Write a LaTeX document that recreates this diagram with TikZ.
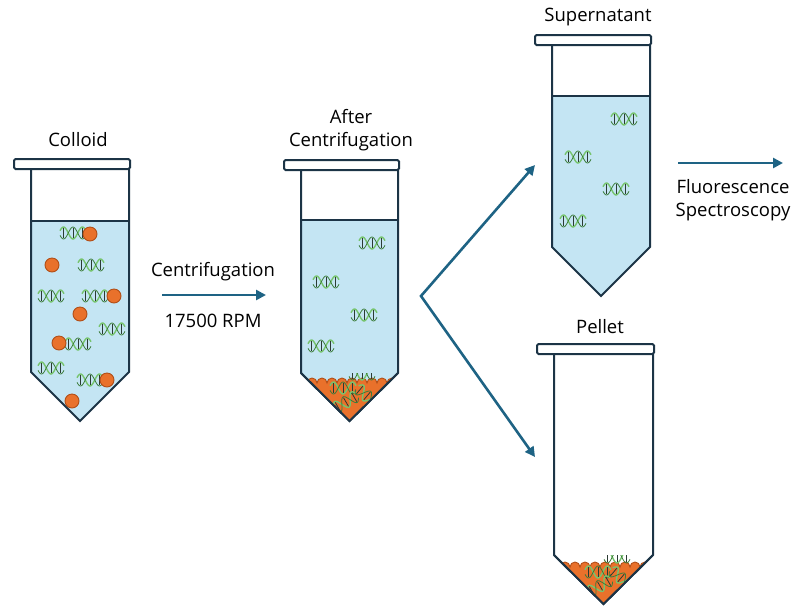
\documentclass[tikz,border=0pt]{standalone}
\usepackage{fontspec}
\setmainfont{Open Sans}
\usetikzlibrary{arrows.meta}

\definecolor{liquidblue}{HTML}{C4E5F3}
\definecolor{tubeline}{HTML}{1C3446}
\definecolor{flowblue}{HTML}{1E6384}
\definecolor{beadorange}{HTML}{E9712B}
\definecolor{beadedge}{HTML}{B14E17}
\definecolor{strandlight}{HTML}{77C46E}
\definecolor{stranddark}{HTML}{3C7D3A}
\definecolor{rungdark}{HTML}{2B3B33}

\tikzset{
  tube/.style={draw=tubeline, line width=2pt},
  pellet/.style={fill=beadorange, draw=beadedge, line width=0.9pt},
  bead/.style={fill=beadorange, draw=beadedge, line width=0.9pt},
  flow/.style={draw=flowblue, line width=2.6pt, -{Triangle[length=10pt,width=10pt]}},
  lbl/.style={font=\fontsize{18.5}{23}\selectfont, align=center, inner sep=0pt},
  dna/.pic={
    \draw[strandlight, line width=1.4pt] plot[domain=-13:13, samples=31, smooth] (\x,{6*cos(19*\x)});
    \draw[stranddark, line width=0.8pt] plot[domain=-13:13, samples=31, smooth] (\x,{-6*cos(19*\x)});
    \foreach \u in {-9.5,0,9.5} \draw[rungdark, line width=0.8pt] (\u,-5) -- (\u,5);
  }
}

\begin{document}
\begin{tikzpicture}[x=1pt,y=-1pt]
  \useasboundingbox (0,0) rectangle (797,606);
  % #1 left, #2 right, #3 neck, #4 shoulder, #5 tip, #6 liquid level
  \newcommand{\drawTube}[6]{
    \begin{scope}
      \clip (#1,#3) -- (#1,#4) -- ({(#1+#2)/2},#5) -- (#2,#4) -- (#2,#3) -- cycle;
      \fill[liquidblue] (#1,#6) rectangle (#2,#5);
      \draw[tube] (#1,#6) -- (#2,#6);
    \end{scope}
    \draw[tube] (#1,#3) -- (#1,#4) -- ({(#1+#2)/2},#5) -- (#2,#4) -- (#2,#3);
    \draw[tube, fill=white, rounded corners=1.5pt] (#1-17,#3-10) rectangle (#2+1,#3); }
  % #1 left, #2 right, #3 shoulder, #4 tip, #5 pellet top
  \newcommand{\drawPellet}[5]{
    \begin{scope}
      \clip (#1,#3) -- ({(#1+#2)/2},#4) -- (#2,#3) -- cycle;
      \draw[pellet] (#1-4,#5) foreach \k in {1,...,11} {arc[start angle=180, end angle=360, radius=5]}
        -- (#2+12,#4+2) -- (#1-4,#4+2) -- cycle;
    \end{scope} }
  \newcommand{\redrawTip}[4]{\draw[tube, line join=miter] (#1,#3) -- ({(#1+#2)/2},#4) -- (#2,#3);}
  \newcommand{\drawBead}[2]{\draw[bead] (#1,#2) circle (7);}

  % colloid
  \drawTube{31}{129}{169}{372}{421}{221}
  \foreach \p in {(73,233),(91,265),(51,296),(95,296),(112,329),(78,344),(51,368),(90,380)}
    \pic at \p {dna};
  \foreach \bx/\by in {90/234,52/265,114/296,80/314,59/343,107/380,72/401}
    {\drawBead{\bx}{\by}}

  % after centrifugation
  \drawTube{301}{398}{170}{373}{421}{220}
  \foreach \p in {(372,243),(326,282),(364,315),(321,346)}
    \pic at \p {dna};
  \drawPellet{301}{398}{373}{421}{383}
  \begin{scope}
    \clip (301,373) -- (350,421) -- (398,373) -- cycle;
    \pic at (362,374) {dna};
    \pic at (343,388) {dna};
    \pic[rotate=30] at (346,402) {dna};
    \pic[rotate=-40] at (367,396) {dna};
  \end{scope}
  \redrawTip{301}{398}{373}{421}

  % supernatant
  \drawTube{552}{650}{45}{247}{296}{96}
  \foreach \p in {(624,119),(578,157),(616,189),(573,221)}
    \pic at \p {dna};

  % pellet
  \drawTube{554}{653}{354}{555}{604}{620}
  \drawPellet{554}{653}{555}{604}{567}
  \begin{scope}
    \clip (554,555) -- (603.5,604) -- (653,555) -- cycle;
    \pic at (617,557) {dna};
    \pic at (598,572) {dna};
    \pic[rotate=30] at (600,586) {dna};
    \pic[rotate=-40] at (621,578) {dna};
  \end{scope}
  \redrawTip{554}{653}{555}{604}

  % labels
  \node[lbl] (colloid) at (78,140) {Colloid};
  \node[lbl] (after) at (351,130) {After\\Centrifugation};
  \node[lbl] (spin) at (213,272) {Centrifugation};
  \node[lbl] (rpm) at (213,321) {17500 RPM};
  \node[lbl] (super) at (598,17) {Supernatant};
  \node[lbl] (pel) at (600,327) {Pellet};
  \node[lbl] (fluor) at (733,200) {Fluorescence\\Spectroscopy};

  % arrows
  \coordinate (spinL) at (162,295);
  \coordinate (spinR) at (266,295);
  \coordinate (fork) at (421,296);
  \coordinate (toSup) at (535,165);
  \coordinate (toPel) at (535,457);
  \coordinate (fluorL) at (678,163);
  \coordinate (fluorR) at (783,163);
  \draw[flow] (spinL) -- (spinR);
  \draw[flow, {Triangle[length=10pt,width=10pt]}-{Triangle[length=10pt,width=10pt]}, line join=miter] (toSup) -- (fork) -- (toPel);
  \draw[flow] (fluorL) -- (fluorR);
\end{tikzpicture}
\end{document}
